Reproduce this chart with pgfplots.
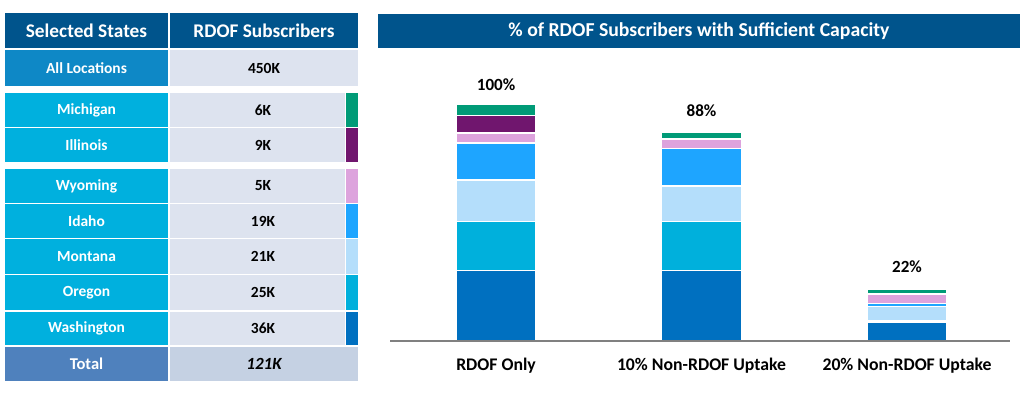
\documentclass[border=0pt]{standalone}
\usepackage{fontspec}
\setmainfont{Carlito}
\usepackage{pgfplots}
\pgfplotsset{compat=1.18}
\definecolor{hdr}{RGB}{0,84,140}
\definecolor{allloc}{RGB}{14,136,198}
\definecolor{state}{RGB}{0,176,222}
\definecolor{valc}{RGB}{221,227,239}
\definecolor{totl}{RGB}{79,129,189}
\definecolor{totv}{RGB}{197,209,227}
\definecolor{cMI}{RGB}{0,155,119}
\definecolor{cIL}{RGB}{112,22,110}
\definecolor{cWY}{RGB}{221,163,221}
\definecolor{cID}{RGB}{30,165,255}
\definecolor{cMT}{RGB}{180,222,251}
\definecolor{cOR}{RGB}{0,176,220}
\definecolor{cWA}{RGB}{0,112,192}
\newcommand{\fs}[1]{\fontsize{#1}{#1}\selectfont}
\newcommand{\staterow}[5]{%
  \fill[state] (5,#1) rectangle (168,#2);
  \fill[valc] (170,#1) rectangle (345,#2);
  \fill[#5] (346,#1) rectangle (358,#2);
  \node[white,font=\bfseries\fs{11.6pt}] at (86.5,{(#1+#2)/2}) {#3};
  \node[black,font=\bfseries\fs{11.6pt}] at (263,{(#1+#2)/2}) {#4};}
\begin{document}
\begin{tikzpicture}
\begin{scope}[x=0.75pt,y=-0.75pt]
\path[use as bounding box] (0,0) rectangle (1024,395);
% header
\fill[hdr] (5,13) rectangle (168,48);
\fill[hdr] (170,13) rectangle (358,48);
\node[white,font=\bfseries\fs{14.5pt}] at (86.5,30.5) {Selected States};
\node[white,font=\bfseries\fs{14.5pt}] at (264,30.5) {RDOF Subscribers};
% all locations
\fill[allloc] (5,50) rectangle (168,86);
\fill[valc] (170,50) rectangle (358,86);
\node[white,font=\bfseries\fs{11.6pt}] at (86.5,68) {All Locations};
\node[black,font=\bfseries\fs{11.6pt}] at (264,68) {450K};
% states
\staterow{93}{127}{Michigan}{6K}{cMI}
\staterow{128.5}{162}{Illinois}{9K}{cIL}
\staterow{169}{203}{Wyoming}{5K}{cWY}
\staterow{204.5}{238}{Idaho}{19K}{cID}
\staterow{239.5}{274}{Montana}{21K}{cMT}
\staterow{275.5}{310}{Oregon}{25K}{cOR}
\staterow{311.5}{345}{Washington}{36K}{cWA}
% total
\fill[totl] (5,346.5) rectangle (168,381);
\fill[totv] (170,346.5) rectangle (358,381);
\node[white,font=\bfseries\fs{12.4pt}] at (86.5,364) {Total};
\node[black,font=\bfseries\itshape\fs{12.8pt}] at (264,364) {121K};
% chart title
\fill[hdr] (378,14) rectangle (1020,48);
\node[white,font=\bfseries\fs{14.8pt}] at (699,31) {\% of RDOF Subscribers with Sufficient Capacity};
\end{scope}
\begin{axis}[
  at={(292.5pt,-255.75pt)}, anchor=south west,
  scale only axis, width=465pt, height=210.75pt,
  xmin=-0.516, xmax=2.501, ymin=0, ymax=118.6,
  ybar stacked, bar width=60pt,
  axis on top,
  axis x line=bottom, axis y line=none,
  x axis line style={-, draw=gray, line width=0.8pt},
  xtick={0,1,2},
  xticklabels={RDOF Only, 10\% Non-RDOF Uptake, 20\% Non-RDOF Uptake},
  major tick length=0pt,
  xticklabel style={font=\bfseries\fs{13.3pt}, anchor=base, yshift=-22.3pt},
  every axis plot/.append style={draw=white, line width=1.1pt},
  clip=false,
]
\addplot[fill=cWA] coordinates {(0,29.8) (1,29.8) (2,7.7)};
\addplot[fill=cOR] coordinates {(0,20.7) (1,20.7) (2,0.8)};
\addplot[fill=cMT] coordinates {(0,17.4) (1,15.0) (2,6.0)};
\addplot[fill=cID] coordinates {(0,15.7) (1,15.7) (2,1.3)};
\addplot[fill=cWY] coordinates {(0,4.1) (1,4.1) (2,4.1)};
\addplot[fill=cIL] coordinates {(0,7.4) (1,0) (2,0)};
\addplot[fill=cMI,
  point meta=explicit symbolic,
  nodes near coords,
  nodes near coords style={font=\bfseries\fs{12.8pt}, text=black, anchor=base, yshift=14.4pt},
] coordinates {(0,4.9) [100\%] (1,2.7) [88\%] (2,2.1) [22\%]};
\end{axis}
\end{tikzpicture}
\end{document}
